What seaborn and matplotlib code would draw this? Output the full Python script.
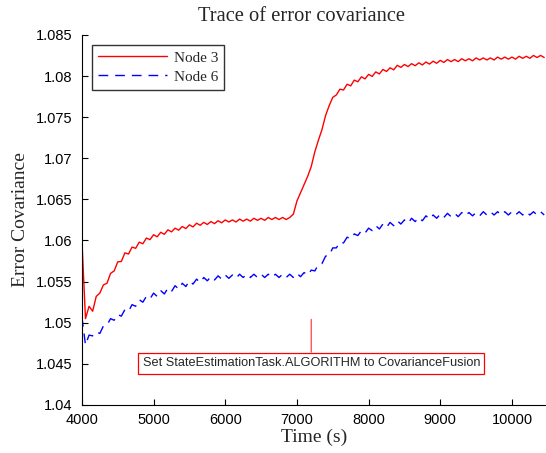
import pandas as pd
import seaborn as sns
import matplotlib.pyplot as plt

time_s = list(range(4000, 10500, 50))

node3 = [
    1.06000, 1.05050, 1.05200, 1.05140, 1.05320, 1.05360, 1.05460, 1.05480, 1.05600, 1.05630,
    1.05740, 1.05745, 1.05850, 1.05835, 1.05920, 1.05905, 1.05980, 1.05960, 1.06030, 1.06010,
    1.06070, 1.06045, 1.06100, 1.06075, 1.06130, 1.06105, 1.06150, 1.06125, 1.06170, 1.06145,
    1.06190, 1.06165, 1.06210, 1.06185, 1.06220, 1.06195, 1.06230, 1.06205, 1.06240, 1.06215,
    1.06250, 1.06225, 1.06250, 1.06225, 1.06260, 1.06235, 1.06260, 1.06235, 1.06270, 1.06245,
    1.06270, 1.06245, 1.06280, 1.06255, 1.06280, 1.06255, 1.06280, 1.06255, 1.06280, 1.06320,
    1.06480, 1.06580, 1.06680, 1.06780, 1.06900, 1.07080, 1.07220, 1.07350, 1.07520, 1.07640,
    1.07740, 1.07770, 1.07840, 1.07830, 1.07900, 1.07880, 1.07950, 1.07930, 1.07990, 1.07965,
    1.08020, 1.07995, 1.08050, 1.08025, 1.08080, 1.08055, 1.08100, 1.08075, 1.08130, 1.08105,
    1.08140, 1.08115, 1.08150, 1.08125, 1.08160, 1.08135, 1.08170, 1.08145, 1.08180, 1.08155,
    1.08190, 1.08165, 1.08200, 1.08175, 1.08200, 1.08175, 1.08210, 1.08185, 1.08210, 1.08185,
    1.08220, 1.08195, 1.08220, 1.08195, 1.08220, 1.08195, 1.08230, 1.08205, 1.08230, 1.08205,
    1.08230, 1.08205, 1.08240, 1.08215, 1.08240, 1.08215, 1.08250, 1.08225, 1.08250, 1.08225,
]

node6 = [
    1.0507, 1.0473, 1.0485, 1.0484, 1.0489, 1.0487, 1.0496, 1.0497, 1.0505, 1.0503,
    1.0510, 1.0508, 1.0516, 1.0514, 1.0522, 1.0520, 1.0528, 1.0525, 1.0532, 1.0529,
    1.0536, 1.0532, 1.0539, 1.0535, 1.0542, 1.0538, 1.0545, 1.0541, 1.0548, 1.0544,
    1.0551, 1.0547, 1.0553, 1.0549, 1.0555, 1.0551, 1.0556, 1.0552, 1.0557, 1.0553,
    1.0558, 1.0554, 1.0558, 1.0554, 1.0559, 1.0555, 1.0559, 1.0555, 1.0559, 1.0555,
    1.0559, 1.0555, 1.0559, 1.0555, 1.0559, 1.0555, 1.0559, 1.0555, 1.0559, 1.0555,
    1.0560, 1.0556, 1.0561, 1.0558, 1.0564, 1.0563, 1.0571, 1.0572, 1.0581, 1.0582,
    1.0591, 1.0591, 1.0598, 1.0597, 1.0604, 1.0602, 1.0608, 1.0606, 1.0612, 1.0609,
    1.0615, 1.0612, 1.0618, 1.0614, 1.0620, 1.0616, 1.0622, 1.0618, 1.0624, 1.0620,
    1.0625, 1.0621, 1.0627, 1.0623, 1.0628, 1.0624, 1.0630, 1.0626, 1.0631, 1.0627,
    1.0632, 1.0628, 1.0633, 1.0629, 1.0633, 1.0629, 1.0634, 1.0630, 1.0634, 1.0630,
    1.0634, 1.0630, 1.0635, 1.0631, 1.0635, 1.0631, 1.0635, 1.0631, 1.0635, 1.0631,
    1.0635, 1.0631, 1.0635, 1.0631, 1.0635, 1.0631, 1.0635, 1.0631, 1.0635, 1.0631,
]

event_time = 7200
event_label = 'Set StateEstimationTask.ALGORITHM to CovarianceFusion'

df = pd.DataFrame({
    'Time': time_s * 2,
    'Cov': node3 + node6,
    'Node': ['Node 3'] * len(time_s) + ['Node 6'] * len(time_s),
})

sns.set_style('ticks')
plt.rcParams['font.family'] = ['Liberation Serif', 'DejaVu Serif']

fig = plt.figure(figsize=(5.46, 4.53), dpi=100)
ax = fig.add_axes([0.150, 0.106, 0.850, 0.817])

sns.lineplot(data=df, x='Time', y='Cov', hue='Node', style='Node',
             palette={'Node 3': '#ff0000', 'Node 6': '#0000ff'},
             dashes={'Node 3': '', 'Node 6': (7, 5)},
             linewidth=1.0, ax=ax)

ax.set_xlim(4000, 10475)
ax.set_ylim(1.04, 1.085)
ax.set_xticks([4000, 5000, 6000, 7000, 8000, 9000, 10000])
ax.set_yticks([1.04, 1.045, 1.05, 1.055, 1.06, 1.065, 1.07, 1.075, 1.08, 1.085])
ax.set_yticklabels(['1.04', '1.045', '1.05', '1.055', '1.06', '1.065', '1.07',
                    '1.075', '1.08', '1.085'])
for lab in ax.get_xticklabels() + ax.get_yticklabels():
    lab.set_family('Liberation Sans')
    lab.set_fontsize(10.5)
ax.tick_params(direction='in', length=4, width=0.8, colors='black')
ax.tick_params(axis='y', pad=7)
ax.tick_params(axis='x', pad=6)
sns.despine(ax=ax)
for s in ['left', 'bottom']:
    ax.spines[s].set_linewidth(0.8)
    ax.spines[s].set_color('black')

ax.set_xlabel('Time (s)', fontsize=14, labelpad=1)
ax.set_ylabel('Error Covariance', fontsize=14, labelpad=5)
ax.set_title('Trace of error covariance', fontsize=14.8, x=0.474, pad=10)

ax.annotate(event_label, xy=(event_time, 1.0504), xytext=(event_time, 1.0451),
            ha='center', va='center', fontsize=9.2, family='Liberation Sans',
            bbox=dict(boxstyle='square,pad=0.35', fc='white', ec='red', lw=0.9),
            arrowprops=dict(arrowstyle='-', color='#ff5555', lw=1.0,
                            shrinkA=0, shrinkB=0))

leg = ax.legend(loc='upper left', bbox_to_anchor=(0.0, 1.0), fontsize=11,
                frameon=True, fancybox=False, edgecolor='black',
                handlelength=4.5, handletextpad=0.45, borderpad=0.4,
                labelspacing=0.35, borderaxespad=0.65)
leg.get_frame().set_linewidth(1.0)
leg.set_title(None)

fig.savefig('out.png', dpi=100)
